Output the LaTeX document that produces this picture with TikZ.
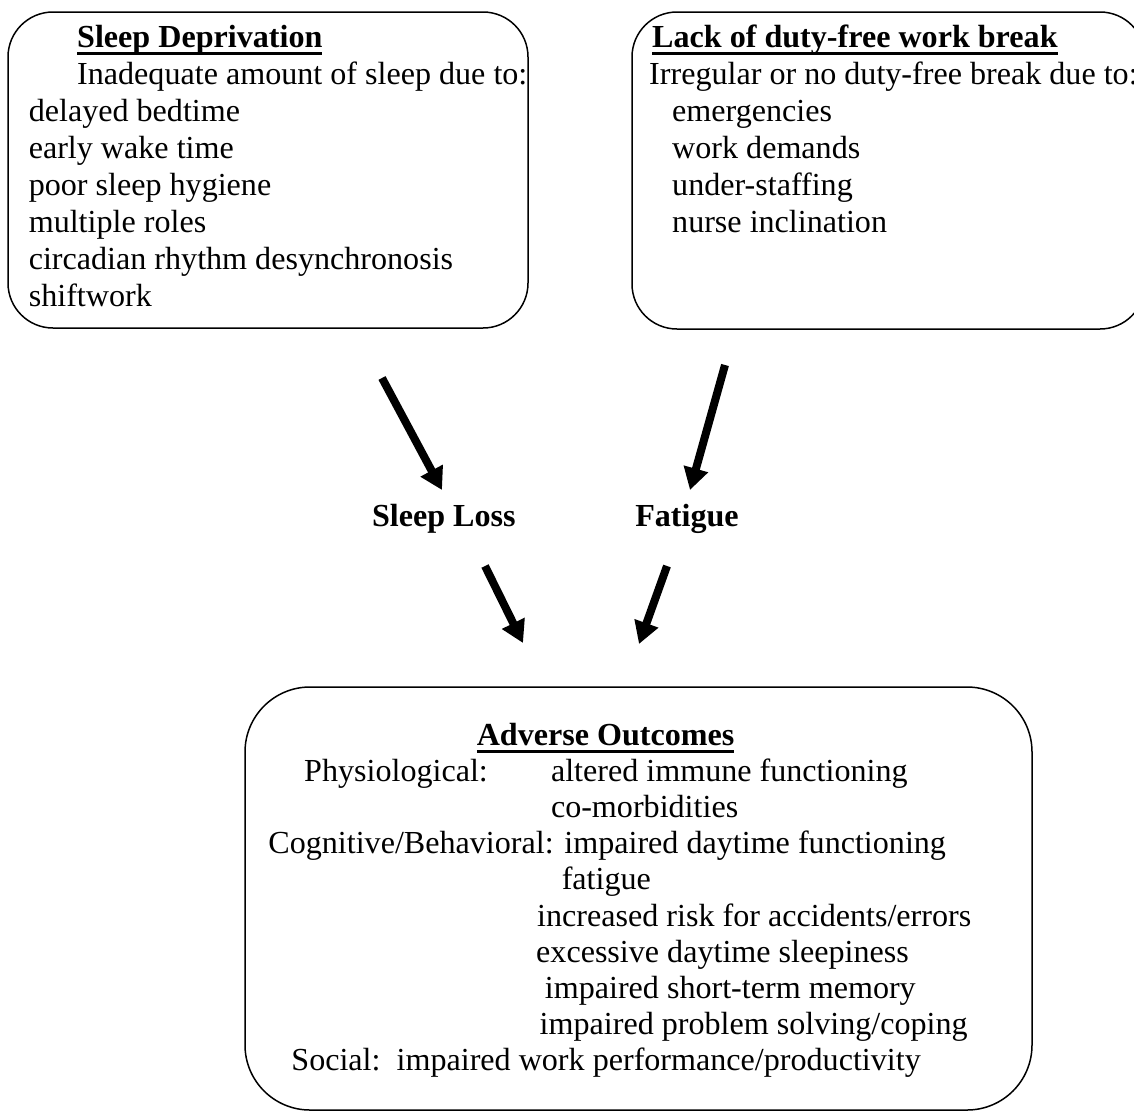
\documentclass[tikz,border=0pt]{standalone}
\usepackage{fontspec}
\setmainfont{Liberation Serif}
\usetikzlibrary{arrows.meta}
\newcommand{\undl}[1]{\setbox0\hbox{#1}\rlap{\rule[-7.5pt]{\wd0}{2.8pt}}\box0}

\begin{document}
\begin{tikzpicture}[x=1pt,y=-1pt,
  box/.style={draw,line width=1.5pt,rounded corners=45pt,inner sep=0pt},
  txt/.style={anchor=base west,align=left,inner sep=0pt,
              font=\fontsize{32.1}{37}\selectfont},
  lbl/.style={anchor=base,inner sep=0pt,font=\fontsize{32.1}{37}\selectfont\bfseries},
  arrow/.style={-{Triangle[length=22pt,width=24pt]},line width=8pt}
]
  \useasboundingbox (0,0) rectangle (1134,1112);
  % boxes
  \node[box,minimum width=520pt,minimum height=316pt] (dep) at (268,170) {};
  \node[box,minimum width=513pt,minimum height=317pt] (brk) at (888.5,170.5) {};
  \node[box,rounded corners=65pt,minimum width=787pt,minimum height=423pt] (out) at (638.5,898.5) {};
  % box texts (placed at the baseline of their last line)
  \node[txt] (deptxt) at (28.6,306) {\hspace*{48.4pt}\undl{\textbf{Sleep Deprivation}}\\
    \hspace*{48.4pt}Inadequate amount of sleep due to:\\
    delayed bedtime\\ early wake time\\ poor sleep hygiene\\ multiple roles\\
    circadian rhythm desynchronosis\\ shiftwork};
  \node[txt] (brktxt) at (649,232) {\hspace*{3pt}\undl{\textbf{Lack of duty-free work break}}\\
    Irregular or no duty-free break due to:\\
    \hspace*{23pt}emergencies\\ \hspace*{23pt}work demands\\
    \hspace*{23pt}under-staffing\\ \hspace*{23pt}nurse inclination};
  \node[txt,font=\fontsize{32.1}{36.2}\selectfont] (outtxt) at (268.2,1070.8) {%
    \hspace*{208.4pt}\undl{\textbf{Adverse Outcomes}}\\
    \hspace*{35.8pt}\makebox[246.8pt][l]{Physiological:}altered immune functioning\\
    \hspace*{282.6pt}co-morbidities\\
    Cognitive/Behavioral: impaired daytime functioning\\
    \hspace*{293.4pt}fatigue\\
    \hspace*{268.8pt}increased risk for accidents/errors\\
    \hspace*{267.8pt}excessive daytime sleepiness\\
    \hspace*{276.5pt}impaired short-term memory\\
    \hspace*{271.3pt}impaired problem solving/coping\\
    \hspace*{23pt}Social:\ \ impaired work performance/productivity};
  % middle labels
  \node[lbl] (loss) at (443.8,526) {Sleep Loss};
  \node[lbl] (fat) at (687,526) {Fatigue};
  % arrow ends
  \coordinate (a1s) at (382,378);
  \coordinate (a1e) at (442,490);
  \coordinate (a2s) at (725,365);
  \coordinate (a2e) at (690,490);
  \coordinate (a3s) at (485,566);
  \coordinate (a3e) at (523,643);
  \coordinate (a4s) at (667,566);
  \coordinate (a4e) at (639,644);
  \draw[arrow] (a1s) -- (a1e);
  \draw[arrow] (a2s) -- (a2e);
  \draw[arrow] (a3s) -- (a3e);
  \draw[arrow] (a4s) -- (a4e);
\end{tikzpicture}
\end{document}
